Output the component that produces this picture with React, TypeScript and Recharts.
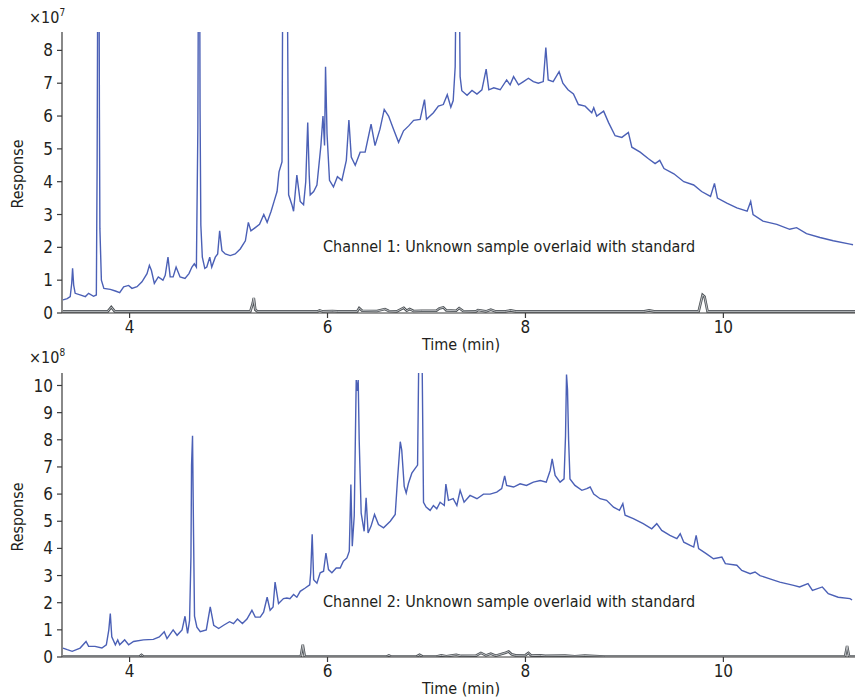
import React from 'react';
import { LineChart, Line, XAxis, YAxis } from 'recharts';

// time (min), response (x10^7) -- channel 1
const ch1Sample: [number, number][] = [
  [3.327, 0.4], [3.37, 0.44], [3.4, 0.5], [3.415, 0.9], [3.424, 1.36], [3.435, 0.85], [3.45, 0.6], [3.5, 0.55],
  [3.553, 0.5], [3.586, 0.6], [3.636, 0.51], [3.664, 0.55], [3.672, 4.55], [3.68, 12], [3.69, 12], [3.695, 6.2],
  [3.7, 2.57], [3.715, 1.0], [3.74, 0.75], [3.805, 0.72], [3.856, 0.67], [3.9, 0.62], [3.94, 0.8], [3.99, 0.84],
  [4.024, 0.75], [4.075, 0.8], [4.125, 0.95], [4.176, 1.2], [4.2, 1.45], [4.22, 1.3], [4.25, 0.9], [4.29, 1.1],
  [4.337, 1.0], [4.36, 1.15], [4.388, 1.7], [4.41, 1.1], [4.44, 1.1], [4.47, 1.4], [4.51, 1.1], [4.56, 1.05],
  [4.6, 1.2], [4.63, 1.4], [4.654, 1.5], [4.675, 1.4], [4.69, 5.66], [4.697, 12], [4.707, 12], [4.712, 6.2],
  [4.72, 2.67], [4.735, 1.7], [4.76, 1.36], [4.78, 1.4], [4.81, 1.7], [4.83, 1.4], [4.866, 1.7], [4.89, 1.8],
  [4.91, 2.5], [4.933, 1.9], [4.967, 1.8], [5.017, 1.75], [5.067, 1.8], [5.118, 1.95], [5.17, 2.2], [5.2, 2.76],
  [5.226, 2.5], [5.27, 2.6], [5.313, 2.7], [5.356, 3.0], [5.39, 2.76], [5.43, 3.1], [5.46, 3.4], [5.49, 3.7],
  [5.51, 4.3], [5.54, 4.6], [5.55, 12], [5.575, 10], [5.59, 12], [5.607, 3.6], [5.64, 3.3], [5.657, 3.1],
  [5.69, 4.2], [5.724, 3.4], [5.758, 3.3], [5.78, 4.0], [5.8, 5.8], [5.815, 4.2], [5.825, 3.6], [5.86, 3.7],
  [5.893, 3.9], [5.933, 5.1], [5.954, 6.0], [5.97, 5.1], [5.98, 7.5], [5.995, 5.46], [6.02, 4.04], [6.06, 3.84],
  [6.1, 4.15], [6.145, 4.04], [6.19, 4.65], [6.216, 5.88], [6.24, 4.75], [6.28, 4.5], [6.33, 4.9], [6.38, 4.9],
  [6.44, 5.75], [6.48, 5.1], [6.53, 5.6], [6.573, 6.2], [6.617, 6.0], [6.667, 5.6], [6.718, 5.2], [6.768, 5.55],
  [6.82, 5.7], [6.87, 5.87], [6.936, 5.9], [6.98, 6.5], [7.0, 5.9], [7.07, 6.1], [7.12, 6.3], [7.17, 6.35],
  [7.21, 6.65], [7.246, 6.27], [7.27, 6.47], [7.29, 7.5], [7.305, 12], [7.325, 12], [7.34, 7.2], [7.357, 6.77],
  [7.41, 6.63], [7.46, 6.78], [7.51, 6.67], [7.56, 6.8], [7.603, 7.43], [7.63, 6.8], [7.68, 6.86], [7.745, 6.8],
  [7.81, 7.1], [7.845, 6.95], [7.88, 7.2], [7.93, 6.95], [7.98, 7.05], [8.03, 7.15], [8.08, 7.05], [8.13, 7.0],
  [8.18, 7.05], [8.206, 8.09], [8.23, 7.1], [8.28, 7.05], [8.34, 7.35], [8.378, 7.0], [8.43, 6.8], [8.485, 6.67],
  [8.535, 6.35], [8.603, 6.3], [8.67, 6.1], [8.69, 6.25], [8.72, 6.0], [8.79, 6.15], [8.84, 5.8], [8.906, 5.4],
  [8.974, 5.35], [9.04, 5.5], [9.075, 5.05], [9.159, 4.9], [9.243, 4.7], [9.31, 4.55], [9.357, 4.65], [9.4, 4.4],
  [9.5, 4.24], [9.6, 4.0], [9.7, 3.9], [9.78, 3.7], [9.87, 3.55], [9.91, 3.95], [9.94, 3.5], [10.035, 3.35],
  [10.136, 3.2], [10.24, 3.1], [10.276, 3.4], [10.3, 3.0], [10.4, 2.8], [10.54, 2.7], [10.67, 2.55], [10.74, 2.6],
  [10.84, 2.42], [10.976, 2.3], [11.11, 2.2], [11.28, 2.1], [11.31, 2.08],
];

const ch1Standard: [number, number][] = [
  [3.327, 0.05], [3.78, 0.05], [3.815, 0.18], [3.85, 0.05], [5.22, 0.05], [5.245, 0.3], [5.255, 0.46], [5.27, 0.1],
  [5.29, 0.05], [5.9, 0.05], [5.92, 0.08], [5.95, 0.05], [6.05, 0.06], [6.1, 0.05], [6.3, 0.05], [6.32, 0.15],
  [6.35, 0.07], [6.5, 0.06], [6.58, 0.12], [6.62, 0.06], [6.7, 0.05], [6.77, 0.16], [6.8, 0.07], [6.83, 0.12],
  [6.87, 0.06], [6.95, 0.07], [7.1, 0.07], [7.13, 0.14], [7.17, 0.17], [7.2, 0.08], [7.3, 0.07], [7.33, 0.15],
  [7.37, 0.06], [7.5, 0.05], [7.52, 0.09], [7.6, 0.05], [7.65, 0.1], [7.7, 0.05], [7.8, 0.05], [7.85, 0.08],
  [7.9, 0.05], [9.2, 0.05], [9.25, 0.08], [9.3, 0.05], [9.75, 0.05], [9.79, 0.55], [9.81, 0.5], [9.84, 0.05],
  [11.33, 0.05],
];

// time (min), response (x10^8) -- channel 2
const ch2Sample: [number, number][] = [
  [3.327, 0.33], [3.37, 0.27], [3.42, 0.21], [3.5, 0.33], [3.56, 0.57], [3.586, 0.39], [3.65, 0.39], [3.72, 0.33],
  [3.765, 0.45], [3.79, 1.0], [3.805, 1.6], [3.82, 0.74], [3.856, 0.45], [3.88, 0.63], [3.9, 0.45], [3.95, 0.63],
  [3.99, 0.45], [4.04, 0.57], [4.14, 0.63], [4.24, 0.65], [4.3, 0.74], [4.35, 0.93], [4.378, 0.68], [4.44, 1.0],
  [4.48, 0.8], [4.53, 1.0], [4.56, 1.5], [4.586, 0.87], [4.606, 1.35], [4.62, 3.7], [4.626, 7.05], [4.636, 8.15],
  [4.646, 4.6], [4.656, 1.5], [4.68, 1.1], [4.714, 0.93], [4.775, 1.0], [4.815, 1.85], [4.85, 1.17], [4.9, 1.05],
  [4.95, 1.17], [5.01, 1.3], [5.05, 1.23], [5.09, 1.4], [5.14, 1.23], [5.186, 1.4], [5.236, 1.72], [5.27, 1.47],
  [5.32, 1.47], [5.354, 1.65], [5.39, 2.2], [5.42, 1.72], [5.45, 1.84], [5.47, 2.76], [5.505, 1.97], [5.555, 2.15],
  [5.59, 2.17], [5.62, 2.15], [5.657, 2.3], [5.69, 2.2], [5.724, 2.42], [5.775, 2.54], [5.82, 2.66], [5.83, 3.1],
  [5.845, 4.52], [5.86, 2.85], [5.893, 2.72], [5.926, 3.1], [5.96, 3.16], [5.984, 3.83], [6.01, 3.22], [6.044, 3.1],
  [6.088, 3.28], [6.128, 3.28], [6.16, 3.53], [6.196, 3.65], [6.22, 3.9], [6.236, 6.35], [6.25, 4.08], [6.27, 5.2],
  [6.29, 10.2], [6.3, 9.8], [6.31, 10.2], [6.32, 8.0], [6.34, 5.3], [6.37, 4.63], [6.39, 5.86], [6.41, 4.57],
  [6.44, 4.82], [6.475, 5.25], [6.515, 4.88], [6.566, 4.76], [6.634, 5.0], [6.684, 5.25], [6.707, 6.53], [6.735, 7.93],
  [6.75, 7.62], [6.775, 6.28], [6.795, 6.04], [6.818, 6.4], [6.852, 6.77], [6.886, 6.95], [6.91, 7.07], [6.925, 12],
  [6.953, 12], [6.97, 5.7], [6.996, 5.52], [7.037, 5.4], [7.07, 5.58], [7.104, 5.46], [7.138, 5.7], [7.18, 5.58],
  [7.196, 6.37], [7.222, 5.77], [7.27, 5.83], [7.307, 5.58], [7.34, 6.14], [7.38, 5.7], [7.44, 5.95], [7.51, 5.83],
  [7.576, 6.0], [7.643, 6.0], [7.71, 6.07], [7.76, 6.2], [7.79, 6.67], [7.81, 6.32], [7.88, 6.26], [7.946, 6.38],
  [8.01, 6.32], [8.08, 6.44], [8.15, 6.5], [8.21, 6.44], [8.25, 6.87], [8.27, 7.3], [8.3, 6.69], [8.35, 6.44],
  [8.39, 6.56], [8.405, 8.15], [8.415, 10.4], [8.425, 9.85], [8.436, 8.0], [8.45, 6.56], [8.5, 6.32], [8.57, 6.14],
  [8.62, 6.2], [8.654, 6.26], [8.69, 6.0], [8.754, 5.83], [8.82, 5.77], [8.89, 5.52], [8.95, 5.4], [8.984, 5.65],
  [9.007, 5.22], [9.09, 5.1], [9.19, 4.91], [9.276, 4.72], [9.327, 4.91], [9.377, 4.66], [9.46, 4.48], [9.53, 4.36],
  [9.564, 4.54], [9.6, 4.23], [9.665, 4.11], [9.7, 4.05], [9.725, 4.48], [9.75, 3.99], [9.83, 3.8], [9.9, 3.62],
  [9.985, 3.68], [10.02, 3.44], [10.136, 3.38], [10.186, 3.19], [10.27, 3.07], [10.32, 3.13], [10.37, 3.0], [10.47, 2.88],
  [10.57, 2.76], [10.71, 2.64], [10.77, 2.58], [10.855, 2.7], [10.9, 2.45], [11.0, 2.58], [11.06, 2.33], [11.16, 2.2],
  [11.28, 2.15], [11.3, 2.1],
];

const ch2Standard: [number, number][] = [
  [3.327, 0.02], [4.1, 0.02], [4.12, 0.08], [4.14, 0.02], [5.73, 0.02], [5.75, 0.45], [5.77, 0.02], [6.6, 0.02],
  [6.62, 0.06], [6.64, 0.02], [6.9, 0.02], [6.93, 0.08], [6.96, 0.02], [7.1, 0.02], [7.15, 0.06], [7.2, 0.03],
  [7.3, 0.08], [7.35, 0.04], [7.5, 0.05], [7.55, 0.15], [7.6, 0.06], [7.65, 0.12], [7.7, 0.05], [7.75, 0.1],
  [7.8, 0.16], [7.83, 0.2], [7.86, 0.1], [7.9, 0.06], [8.0, 0.07], [8.03, 0.15], [8.06, 0.05], [8.15, 0.06],
  [8.2, 0.04], [8.4, 0.05], [8.5, 0.03], [8.6, 0.05], [8.8, 0.02], [11.23, 0.02], [11.25, 0.41], [11.27, 0.02],
  [11.33, 0.02],
];

const timeTicks = [4, 6, 8, 10];
const ch1Ticks = [0, 1, 2, 3, 4, 5, 6, 7, 8];
const ch2Ticks = [0, 1, 2, 3, 4, 5, 6, 7, 8, 9, 10];

const FONT = "'Liberation Sans Narrow', 'DejaVu Sans Condensed', Roboto, sans-serif";
const BLUE = '#4b60b6';
const AXIS = '#3a3a3a';
const TEXT = '#231f20';

const toRows = (pts: [number, number][]) => pts.map(([t, v]) => ({ t, v }));

const tickStyle = { fill: TEXT, fontSize: 17, fontFamily: FONT };

interface PanelProps {
  sample: [number, number][];
  standard: [number, number][];
  yMax: number;
  yTicks: number[];
  height: number;
  top: number;
  plotH: number;
}

function Panel({ sample, standard, yMax, yTicks, height, top, plotH }: PanelProps) {
  return (
    <LineChart width={856} height={height} margin={{ top, right: 1, bottom: 0, left: 0 }}>
      <XAxis
        dataKey="t"
        type="number"
        domain={[3.317, 11.33]}
        ticks={timeTicks}
        allowDataOverflow
        height={height - top - plotH}
        tick={tickStyle}
        tickSize={5}
        tickMargin={3}
        stroke={AXIS}
        strokeWidth={1.2}
      />
      <YAxis
        type="number"
        domain={[0, yMax]}
        ticks={yTicks}
        allowDataOverflow
        width={62}
        tick={tickStyle}
        tickSize={5}
        tickMargin={4}
        stroke={AXIS}
        strokeWidth={1.2}
      />
      <Line data={toRows(standard)} dataKey="v" type="linear" stroke="#4e5357" strokeWidth={2.6} dot={false} isAnimationActive={false} />
      <Line data={toRows(standard)} dataKey="v" type="linear" stroke="#c9cccf" strokeWidth={0.9} dot={false} isAnimationActive={false} />
      <Line data={toRows(sample)} dataKey="v" type="linear" stroke={BLUE} strokeWidth={1.4} dot={false} isAnimationActive={false} />
    </LineChart>
  );
}

const textBase: React.CSSProperties = {
  position: 'absolute',
  fontFamily: FONT,
  color: TEXT,
  whiteSpace: 'nowrap',
  lineHeight: 1,
};

export default function App() {
  return (
    <div style={{ position: 'absolute', left: 0, top: 0, width: 856, height: 700, background: '#fff' }}>
      <div style={{ position: 'absolute', left: 0, top: 0 }}>
        <Panel sample={ch1Sample} standard={ch1Standard} yMax={8.56} yTicks={ch1Ticks} height={355} top={32} plotH={281} />
      </div>
      <div style={{ position: 'absolute', left: 0, top: 340 }}>
        <Panel sample={ch2Sample} standard={ch2Standard} yMax={10.46} yTicks={ch2Ticks} height={360} top={33} plotH={284} />
      </div>

      {/* multipliers */}
      <div style={{ ...textBase, left: 29, top: 10, fontSize: 16 }}>
        ×10<sup style={{ fontSize: 10, verticalAlign: 'top', position: 'relative', top: -2 }}>7</sup>
      </div>
      <div style={{ ...textBase, left: 29, top: 350, fontSize: 16 }}>
        ×10<sup style={{ fontSize: 10, verticalAlign: 'top', position: 'relative', top: -2 }}>8</sup>
      </div>

      {/* y titles */}
      <div style={{ ...textBase, left: 18, top: 174, fontSize: 16, transform: 'translate(-50%, -50%) rotate(-90deg)' }}>Response</div>
      <div style={{ ...textBase, left: 18, top: 517, fontSize: 16, transform: 'translate(-50%, -50%) rotate(-90deg)' }}>Response</div>

      {/* x titles */}
      <div style={{ ...textBase, left: 461, top: 345, fontSize: 16, transform: 'translate(-50%, -50%)' }}>Time (min)</div>
      <div style={{ ...textBase, left: 461, top: 689, fontSize: 16, transform: 'translate(-50%, -50%)' }}>Time (min)</div>

      {/* channel captions */}
      <div style={{ ...textBase, left: 323, top: 247, fontSize: 16, transform: 'translateY(-50%)' }}>
        Channel 1: Unknown sample overlaid with standard
      </div>
      <div style={{ ...textBase, left: 323, top: 602, fontSize: 16, transform: 'translateY(-50%)' }}>
        Channel 2: Unknown sample overlaid with standard
      </div>
    </div>
  );
}
